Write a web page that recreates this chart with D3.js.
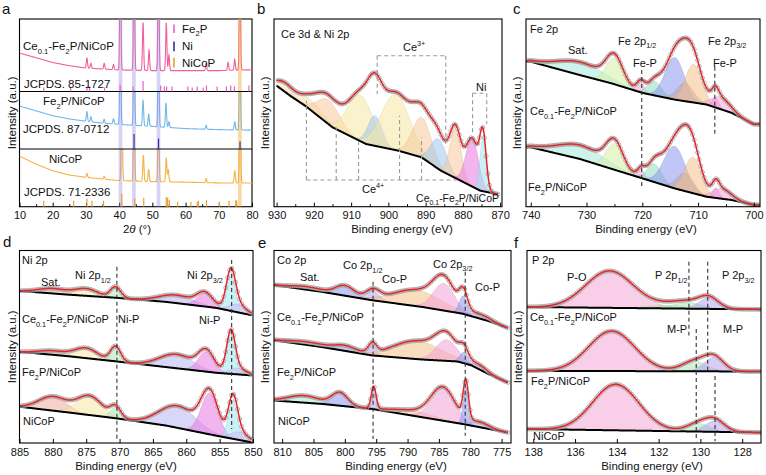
<!DOCTYPE html>
<html><head><meta charset="utf-8">
<script src="https://cdn.jsdelivr.net/npm/d3@7"></script>
<style>
body{margin:0;background:#fff;}
svg{display:block;font-family:"Liberation Sans",Arial,Helvetica,sans-serif;}
</style></head><body>
<script>
// ================= DATA =================
// ---- panel a : XRD ----
const xrdTicks = [10,20,30,40,50,60,70,80];
const xrdMinorTicks = [15,25,35,45,55,65,75];
const xrdBgAngles = [10,15,20,25,30,35,40,50,60,70,80];
const xrdBgCe = [53,46.6,40,35.6,32.4,31,29.7,28.8,28.8,28.8,30];
const xrdBgFe = [74.8,66.3,57.9,52.2,48.3,45,42.8,39.3,35.5,33.7,32.7];
const xrdBgNi = [87.7,73.7,62.3,54.9,50.9,48,45.3,43.5,42.5,41.2,41.2];
// [2theta, intensity]
const xrdPeaksCe = [[30.3,14],[31.5,7],[35.5,8],[38.3,7],[40.35,170],[44.5,170],[47.2,66],[49.0,28],[51.85,170],[54.2,66],[55.0,22],[66.2,10],[72.8,11],[74.8,15],[76.35,170]];
const xrdPeaksFe = [[30.3,17],[31.5,9],[35.5,7],[38.3,9],[40.35,170],[44.5,170],[47.2,45],[48.9,21],[51.85,170],[54.1,42],[55.0,10],[66.2,7],[74.8,14],[76.35,170]];
const xrdPeaksNi = [[30.3,7],[35.5,5],[40.8,170],[44.5,170],[47.3,45],[48.9,21],[51.85,170],[54.2,42],[54.8,21],[66.2,7],[74.8,21],[76.4,170]];
// reference patterns [2theta, relative intensity]
const refFe2P = [[17.3,27],[25.4,27],[30.3,33],[31.1,33],[35.6,27],[40.3,45],[44.2,33],[47.2,70],[52.5,40],[53.6,33],[54.3,33],[55.9,33],[60.7,33],[62.0,27],[63.5,33],[65.3,27],[66.3,40],[69.5,33],[72.3,33],[73.6,40],[74.7,33],[79.1,40]];
const refNi = [[44.5,100],[51.85,70],[76.4,50]];
const refNiCoP = [[17.3,40],[26.3,40],[30.3,53],[31.8,40],[35.3,40],[40.8,85],[44.7,55],[47.4,60],[54.2,65],[54.6,60],[55.1,45],[57.6,33],[61.6,33],[63.5,33],[63.9,40],[66.3,45],[70.2,33],[73.1,40],[75.1,45],[75.4,40]];
const niBandAngles = [40.4,44.45,51.85];
const nicopBandAngles = [76.35];

// ---- XPS : background knots [eV, intensity], peaks [centre eV, height, fwhm, component] ----
const bTicks = [930,920,910,900,890,880,870];
const bBg = [[930,121],[926,110],[922,100],[915,79.4],[906,62.7],[897.3,56],[891.1,49.4],[885.9,36],[880.6,26],[875.3,16],[870.6,12.5]];
const bPeaks = [[928,8,5,"cream"],[921,10,8,"cream"],[916,24,7,"peach"],[907.5,46,8,"yellow"],[903.6,30,4.5,"skyblue"],[898,56,9,"yellow"],[891,40,6,"peach"],[886.5,30,5,"skyblue"],[882,49,3.5,"peach"],[877.5,48,4,"magenta"],[874.6,52,2,"cyan"]];
const bCe4Lines = [922,914,908,897,891.1];
const bCe3Bracket = [903,884.6];
const bNiBracket = [877.4,873.6];

const cTicks = [740,730,720,710,700];
const cBgCe = [[740,145],[731.3,131.8],[725.6,123.5],[719.9,113.7],[714.2,107.1],[708.5,102.2],[704,93.9],[700,82.4]];
const cPeaksCe = [[731,13,10,"sat"],[725,26,3.5,"lime"],[720.3,10,1.6,"pink"],[717.8,14,3,"teal"],[714.2,42,4,"blue"],[712.3,18,3.5,"mauve"],[710.8,38,3.5,"orange"],[706.9,10,1.4,"magenta"],[706,12,4,"rose"]];
const cBgFe = [[740,59.4],[731.3,47.9],[725.6,38],[719.9,28.2],[714.2,18.3],[708.5,10],[704,6.7],[700,1.8]];
const cPeaksFe = [[731,14,10,"sat"],[725,26,3.5,"lime"],[720.2,8,1.6,"pink"],[717.8,18,3,"teal"],[714.2,42,4.5,"blue"],[712.3,18,3.5,"mauve"],[710.9,36,3.5,"orange"],[706.8,10,1.4,"magenta"],[705.8,10,4,"rose"]];

const dTicks = [885,880,875,870,865,860,855,850];
const dBgCe = [[885,152.1],[878,148.5],[870.5,145.2],[863,141.1],[855.5,135.1],[850.2,127.8]];
const dPeaksCe = [[880,5,5,"salmon"],[875,7,4,"yellow"],[870.6,11,1.8,"green"],[861.5,8,6,"lavender"],[857.2,13,2.8,"magenta"],[853.3,37,1.6,"cyan"],[852.3,8,3,"lilac"]];
const dBgFe = [[885,91.2],[878,87],[870.5,81.6],[863,75.9],[855.5,70.2],[850.2,67.6]];
const dPeaksFe = [[880,4,5,"salmon"],[875,10,4,"yellow"],[870.6,15,1.8,"green"],[861.5,14,6,"lavender"],[857,20,2.8,"magenta"],[853.3,40,1.5,"cyan"],[852.3,6,3,"lilac"]];
const dBgNi = [[885,36.3],[878,30.8],[870.5,24.7],[863,17.4],[855.5,7.3],[850.2,0.7]];
const dPeaksNi = [[880,14,5,"salmon"],[874.5,19,4.5,"yellow"],[870.6,11,1.8,"green"],[861.3,22,6.5,"lavender"],[856.5,41,3,"magenta"],[853,38,1.6,"cyan"],[852,8,3,"lilac"]];

const eTicks = [810,805,800,795,790,785,780,775];
const eBgCe = [[811.3,157.9],[803.7,151.2],[795.7,142.8],[787.7,136.1],[781.3,129.4],[777.1,122],[774,115]];
const ePeaksCe = [[806,3,6,"sat"],[800,10,3.5,"blue"],[795.5,9,2.5,"violet"],[788.5,16,9,"orange"],[784.2,27,4,"pink"],[781.1,18,1.5,"blue"],[778.5,4,4,"violet"]];
const eBgFe = [[811.3,102.7],[803.7,96],[795.7,87.6],[787.7,83.5],[782,81.5],[779.8,77.6],[777.1,69],[774,60.5]];
const ePeaksFe = [[806,3,7,"sat"],[800,5,4,"blue"],[795.6,10,1.5,"violet"],[788.5,18,9,"orange"],[783.8,21,4,"pink"],[781,11,1.5,"blue"],[778.5,4,3,"violet"]];
const eBgNi = [[811.3,42.5],[803.7,39.1],[795.7,34.1],[787.7,25.8],[781.3,19.1],[774,10.5]];
const ePeaksNi = [[806.5,7,6,"sat"],[800.8,13,3,"blue"],[795.4,22,0.9,"violet"],[789,5,8,"orange"],[784.3,32,4.5,"pink"],[780.7,38,1,"blue"],[778.5,5,3.5,"violet"]];

const fTicks = [138,136,134,132,130,128];
const fBgCe = [[138.3,136],[127.1,133.6]];
const fPeaksCe = [[134.35,37,2.7,"rose"],[131.6,3,2,"green"],[130.6,6,1.6,"green"],[129.6,11,1.1,"violet"]];
const fBgFe = [[138.3,72.2],[127.1,71.5]];
const fPeaksFe = [[134.25,40,2.6,"rose"],[130.3,10,1.4,"green"],[129.35,14,1.1,"violet"]];
const fBgNi = [[138.3,14],[127.1,10.5]];
const fPeaksNi = [[134.05,46,2.6,"rose"],[130.1,8,1.3,"green"],[129.3,11,1.1,"violet"]];

// ================= STYLE =================
const compColor = {cream:"#f6e2b4",peach:"#f7c99a",yellow:"#f5e8a2",skyblue:"#9fc6ee",magenta:"#ea78e2",cyan:"#9fe6ef",
  sat:"#a6eadf",lime:"#d5eea4",pink:"#f3a3d6",teal:"#8fdcc0",blue:"#8d98ec",mauve:"#bba2ad",orange:"#f6c088",
  rose:"#f3a6d6",salmon:"#f3ab9c",lavender:"#b8b6f0",violet:"#b7a4ef",green:"#a9e8b4",lilac:"#cdb8f0"};
const FONT_STACK = '"Liberation Sans",Arial,Helvetica,sans-serif';
const svg = d3.select("body").append("svg").attr("width",766).attr("height",475);
let clipId = 0;

function rich(g, x, y, parts, size, anchor){
  size = size || 11;
  const t = g.append("text").attr("x",x).attr("y",y).attr("font-size",size).attr("text-anchor",anchor||"start").attr("fill","#111");
  let shift = 0;
  parts.forEach(p => {
    const s = Array.isArray(p) ? p[0] : p, mode = Array.isArray(p) ? p[1] : null;
    const target = mode==="sub" ? size*0.32 : mode==="sup" ? -size*0.42 : 0;
    const sp = t.append("tspan").text(s).attr("dy", target - shift);
    shift = target;
    if (mode==="sub"||mode==="sup") sp.attr("font-size", size*0.66);
    if (mode==="it") sp.attr("font-style","italic");
  });
  return t;
}
const CEFE = ["Ce",["0.1","sub"],"-Fe",["2","sub"],"P/NiCoP"];
const FENI = ["Fe",["2","sub"],"P/NiCoP"];

function makePanel(f, domain, ticks, minors, label, lblPos, xTitle, xTitleX, yTitleX, labPad){
  const x = d3.scaleLinear().domain(domain).range([f.x0, f.x1]);
  const y = d3.scaleLinear().domain([0, f.y1 - f.y0]).range([f.y1, f.y0]);
  const id = "clip" + (clipId++);
  svg.append("clipPath").attr("id", id).append("rect").attr("x",f.x0).attr("y",f.y0).attr("width",f.x1-f.x0).attr("height",f.y1-f.y0);
  const plot = svg.append("g").attr("clip-path", `url(#${id})`);
  const ax = svg.append("g").attr("transform",`translate(0,${f.y1})`);
  ax.call(d3.axisBottom(x).tickValues(ticks).tickSize(-4).tickPadding(labPad).tickFormat(d3.format("d")));
  ax.attr("font-size",11).attr("font-family",FONT_STACK);
  ax.select(".domain").remove();
  ax.selectAll("text").attr("fill","#111");
  if (minors) {
    const mx = svg.append("g").attr("transform",`translate(0,${f.y1})`);
    mx.call(d3.axisBottom(x).tickValues(minors).tickSize(-2.5).tickFormat(() => ""));
    mx.select(".domain").remove();
  }
  svg.append("rect").attr("x",f.x0).attr("y",f.y0).attr("width",f.x1-f.x0).attr("height",f.y1-f.y0)
     .attr("fill","none").attr("stroke","#000").attr("stroke-width",1.1);
  svg.append("text").attr("x",lblPos[0]).attr("y",lblPos[1]).attr("font-size",15).attr("fill","#111").text(label);
  const tg = svg.append("g");
  rich(tg, xTitleX, f.y1 + 26.5, xTitle, 11.5, "middle");
  svg.append("text").attr("transform",`translate(${yTitleX},${(f.y0+f.y1)/2}) rotate(-90)`)
     .attr("text-anchor","middle").attr("dy","0.35em").attr("font-size",11.5).attr("fill","#111").text("Intensity (a.u.)");
  return {x, y, plot, f, ann: svg.append("g")};
}

function gauss(p, e){ const d = e - p[0]; return p[1]*Math.exp(-4*Math.LN2*d*d/(p[2]*p[2])); }

function drawSpectrum(P, bg, peaks, lo, hi, step, cstep){
  const sorted = bg.slice().sort((a,b)=>a[0]-b[0]);
  const bgF = d3.scaleLinear().domain(sorted.map(d=>d[0])).range(sorted.map(d=>d[1])).clamp(true);
  const env = e => bgF(e) + d3.sum(peaks, p => gauss(p, e));
  const es = d3.range(lo, hi + step/2, step);
  const g = P.plot.append("g");
  peaks.forEach(p => {
    const sub = es.filter(e => Math.abs(e - p[0]) < p[2]*2.0);
    const area = d3.area().x(e => P.x(e)).y0(e => P.y(bgF(e))).y1(e => P.y(bgF(e) + gauss(p, e)));
    const c = compColor[p[3]];
    g.append("path").attr("d", area(sub)).attr("fill", c).attr("fill-opacity", 0.55)
     .attr("stroke", d3.color(c).darker(0.5)).attr("stroke-width", 0.5).attr("stroke-opacity", 0.6);
  });
  g.append("path").attr("d", d3.line().x(e => P.x(e)).y(e => P.y(bgF(e)))(es))
   .attr("fill","none").attr("stroke","#000").attr("stroke-width",2);
  g.selectAll(null).data(d3.range(lo, hi, cstep)).join("circle")
   .attr("cx", e => P.x(e)).attr("cy", e => P.y(env(e))).attr("r", 2)
   .attr("fill","none").attr("stroke","#a3a3a3").attr("stroke-width",0.8);
  g.append("path").attr("d", d3.line().x(e => P.x(e)).y(e => P.y(env(e)))(es))
   .attr("fill","none").attr("stroke","#e3262b").attr("stroke-width",1.5);
}

function dashV(P, e, h0, h1, color){
  P.ann.append("line").attr("x1",P.x(e)).attr("x2",P.x(e)).attr("y1",P.y(h0)).attr("y2",P.y(h1))
   .attr("stroke",color||"#333").attr("stroke-width",1.1).attr("stroke-dasharray","4,3");
}
function dashH(P, e0, e1, h, color){
  P.ann.append("line").attr("x1",P.x(e0)).attr("x2",P.x(e1)).attr("y1",P.y(h)).attr("y2",P.y(h))
   .attr("stroke",color||"#333").attr("stroke-width",1.1).attr("stroke-dasharray","4,3");
}

// ================= PANEL a =================
(function(){
  const f = {x0:19.5, x1:252, y0:19, y1:206.7};
  const P = makePanel(f, [10,80], xrdTicks, xrdMinorTicks, "a", [2,14], ["2",["θ","it"]," (°)"], 137, 12, 4.5);
  const subs = [{t:19,b:91.5,bg:xrdBgCe,pk:xrdPeaksCe,col:"#f0619b"},
                {t:91.5,b:149,bg:xrdBgFe,pk:xrdPeaksFe,col:"#72b8ea"},
                {t:149,b:206.7,bg:xrdBgNi,pk:xrdPeaksNi,col:"#f6b343"}];
  const ts = d3.range(10, 80.0001, 0.04);
  subs.forEach(s => {
    const ys = d3.scaleLinear().domain([0,100]).range([s.b, s.t]);
    const bgF = d3.scaleLinear().domain(xrdBgAngles).range(s.bg);
    const id = "clip" + (clipId++);
    svg.append("clipPath").attr("id",id).append("rect").attr("x",f.x0).attr("y",s.t).attr("width",f.x1-f.x0).attr("height",s.b-s.t);
    svg.append("g").attr("clip-path",`url(#${id})`).append("path")
      .attr("d", d3.line().x(t => P.x(t)).y(t => ys(bgF(t) + d3.sum(s.pk, p => gauss([p[0],p[1],0.42], t))))(ts))
      .attr("fill","none").attr("stroke",s.col).attr("stroke-width",1.1);
  });
  const bw = 0.55;
  niBandAngles.forEach(a => svg.append("rect").attr("x",P.x(a-bw)).attr("width",P.x(a+bw)-P.x(a-bw)).attr("y",f.y0).attr("height",f.y1-f.y0).attr("fill","#9b8ee6").attr("opacity",0.4));
  nicopBandAngles.forEach(a => svg.append("rect").attr("x",P.x(a-bw)).attr("width",P.x(a+bw)-P.x(a-bw)).attr("y",f.y0).attr("height",f.y1-f.y0).attr("fill","#f0aa3a").attr("opacity",0.45));
  [91.5,149].forEach(yy => svg.append("line").attr("x1",f.x0).attr("x2",f.x1).attr("y1",yy).attr("y2",yy).attr("stroke","#000").attr("stroke-width",1.1));
  const stick = d3.scaleLinear().domain([0,100]).range([0,15]);
  [[refFe2P,91.5,"#e462c6"],[refNi,149,"#3a2c9c"],[refNiCoP,206.7,"#e9a030"]].forEach(([ref,base,col]) => {
    svg.append("g").selectAll("line").data(ref).join("line")
      .attr("x1",d => P.x(d[0])).attr("x2",d => P.x(d[0])).attr("y1",base).attr("y2",d => base - stick(d[1]))
      .attr("stroke",col).attr("stroke-width",1.2);
  });
  [[24.5,33,"#e462c6",["Fe",["2","sub"],"P"],32.5],[41.6,51.2,"#3a2c9c",["Ni"],50],[57.7,67.4,"#e9a030",["NiCoP"],66.5]].forEach(l => {
    svg.append("line").attr("x1",174).attr("x2",174).attr("y1",l[0]).attr("y2",l[1]).attr("stroke",l[2]).attr("stroke-width",1.6);
    rich(svg, 182, l[4], l[3], 11.5);
  });
  rich(svg, 23, 50, CEFE, 11.5);
  rich(svg, 24, 87.5, ["JCPDS. 85-1727"], 11.5);
  rich(svg, 43, 105, FENI, 11.5);
  rich(svg, 23, 132.5, ["JCPDS. 87-0712"], 11.5);
  rich(svg, 49, 162.5, ["NiCoP"], 11.5);
  rich(svg, 24, 195.5, ["JCPDS. 71-2336"], 11.5);
})();

// ================= PANEL b =================
(function(){
  const f = {x0:274, x1:502, y0:19, y1:206.7};
  const P = makePanel(f, [930.7,869.5], bTicks, [925,915,905,895,885,875], "b", [257,14], ["Binding energy (eV)"], 402, 265, 4.5);
  drawSpectrum(P, bBg, bPeaks, 870.6, 930, 0.1, 0.45);
  const gray = "#9a9a9a";
  const ce4Top = [106, 79.4, 66, 91, 69.4];
  bCe4Lines.forEach((e,i) => dashV(P, e, 26.7, ce4Top[i], gray));
  dashH(P, bCe4Lines[0], 880.8, 26.7, gray);
  dashH(P, bCe3Bracket[0], bCe3Bracket[1], 151, gray);
  dashV(P, bCe3Bracket[0], 151, 112.7, gray);
  dashV(P, bCe3Bracket[1], 151, 59.4, gray);
  dashH(P, bNiBracket[0], bNiBracket[1], 113.4, gray);
  dashV(P, bNiBracket[0], 113.4, 72.7, gray);
  dashV(P, bNiBracket[1], 113.4, 82.7, gray);
  rich(P.ann, 281, 38, ["Ce 3d & Ni 2p"], 11);
  rich(P.ann, 403, 51, ["Ce",["3+","sup"]], 11);
  rich(P.ann, 476, 91, ["Ni"], 11);
  rich(P.ann, 362, 193, ["Ce",["4+","sup"]], 11);
  rich(P.ann, 499, 202, CEFE, 10.5, "end");
})();

// ================= PANEL c =================
(function(){
  const f = {x0:526, x1:760, y0:19, y1:206.7};
  const P = makePanel(f, [740.85,698.9], cTicks, [735,725,715,705], "c", [513,14], ["Binding energy (eV)"], 646, 517, 4.5);
  drawSpectrum(P, cBgCe, cPeaksCe, 699, 740.85, 0.1, 0.3);
  drawSpectrum(P, cBgFe, cPeaksFe, 699, 740.85, 0.1, 0.3);
  dashV(P, 720.1, 136.7, 20);
  dashV(P, 707, 140, 72.5);
  rich(P.ann, 530, 33, ["Fe 2p"], 11);
  rich(P.ann, 568, 54, ["Sat."], 11);
  rich(P.ann, 618, 44.5, ["Fe 2p",["1/2","sub"]], 11);
  rich(P.ann, 633, 67, ["Fe-P"], 11);
  rich(P.ann, 708, 44.5, ["Fe 2p",["3/2","sub"]], 11);
  rich(P.ann, 713, 67, ["Fe-P"], 11);
  rich(P.ann, 530, 115, CEFE, 11);
  rich(P.ann, 528, 191, FENI, 11);
})();

// ================= PANEL d =================
(function(){
  const f = {x0:19.5, x1:253, y0:250.5, y1:443};
  const P = makePanel(f, [885,850], dTicks, null, "d", [3,247], ["Binding energy (eV)"], 126, 12, 5.5);
  drawSpectrum(P, dBgCe, dPeaksCe, 850.2, 885, 0.1, 0.3);
  drawSpectrum(P, dBgFe, dPeaksFe, 850.2, 885, 0.1, 0.3);
  drawSpectrum(P, dBgNi, dPeaksNi, 850.2, 885, 0.1, 0.3);
  dashV(P, 870.4, 176.3, 4);
  dashV(P, 853.2, 183, 14);
  rich(P.ann, 22, 264, ["Ni 2p"], 11);
  rich(P.ann, 41, 286, ["Sat."], 11);
  rich(P.ann, 75, 279, ["Ni 2p",["1/2","sub"]], 11);
  rich(P.ann, 187, 279, ["Ni 2p",["3/2","sub"]], 11);
  rich(P.ann, 22, 323, CEFE, 11);
  rich(P.ann, 118, 323, ["Ni-P"], 11);
  rich(P.ann, 199, 324, ["Ni-P"], 11);
  rich(P.ann, 22, 376, FENI, 11);
  rich(P.ann, 23, 425, ["NiCoP"], 11);
})();

// ================= PANEL e =================
(function(){
  const f = {x0:274, x1:511, y0:250.5, y1:443};
  const P = makePanel(f, [811.3,773.5], eTicks, null, "e", [258,248], ["Binding energy (eV)"], 396, 265, 5.5);
  drawSpectrum(P, eBgCe, ePeaksCe, 774, 811.3, 0.1, 0.3);
  drawSpectrum(P, eBgFe, ePeaksFe, 774, 811.3, 0.1, 0.3);
  drawSpectrum(P, eBgNi, ePeaksNi, 774, 811.3, 0.1, 0.3);
  dashV(P, 795.5, 161.2, 4);
  dashV(P, 780.8, 171.3, 7.3);
  rich(P.ann, 277, 264, ["Co 2p"], 11);
  rich(P.ann, 300, 281, ["Sat."], 11);
  rich(P.ann, 343, 269, ["Co 2p",["1/2","sub"]], 11);
  rich(P.ann, 382, 282.5, ["Co-P"], 11);
  rich(P.ann, 433, 267.5, ["Co 2p",["3/2","sub"]], 11);
  rich(P.ann, 475, 291, ["Co-P"], 11);
  rich(P.ann, 277, 321, CEFE, 11);
  rich(P.ann, 277, 376, FENI, 11);
  rich(P.ann, 278, 425, ["NiCoP"], 11);
})();

// ================= PANEL f =================
(function(){
  const f = {x0:527, x1:761, y0:250.5, y1:443};
  const P = makePanel(f, [138.3,127.1], fTicks, null, "f", [514,248], ["Binding energy (eV)"], 652, 518, 5.5);
  drawSpectrum(P, fBgCe, fPeaksCe, 127.1, 138.3, 0.02, 0.1);
  drawSpectrum(P, fBgFe, fPeaksFe, 127.1, 138.3, 0.02, 0.1);
  drawSpectrum(P, fBgNi, fPeaksNi, 127.1, 138.3, 0.02, 0.1);
  dashV(P, 130.55, 181.3, 107.4);
  dashV(P, 129.65, 181.3, 70.5);
  dashV(P, 130.2, 114.1, 1.7);
  dashV(P, 129.3, 67.1, 1.7);
  rich(P.ann, 532, 264, ["P 2p"], 11);
  rich(P.ann, 567, 281, ["P-O"], 11);
  rich(P.ann, 655, 279, ["P 2p",["1/2","sub"]], 11);
  rich(P.ann, 722, 279, ["P 2p",["3/2","sub"]], 11);
  rich(P.ann, 530, 321, CEFE, 11);
  rich(P.ann, 667, 333, ["M-P"], 11);
  rich(P.ann, 723, 333, ["M-P"], 11);
  rich(P.ann, 531, 385, FENI, 11);
  rich(P.ann, 533, 440, ["NiCoP"], 11);
})();
</script>
</body></html>
